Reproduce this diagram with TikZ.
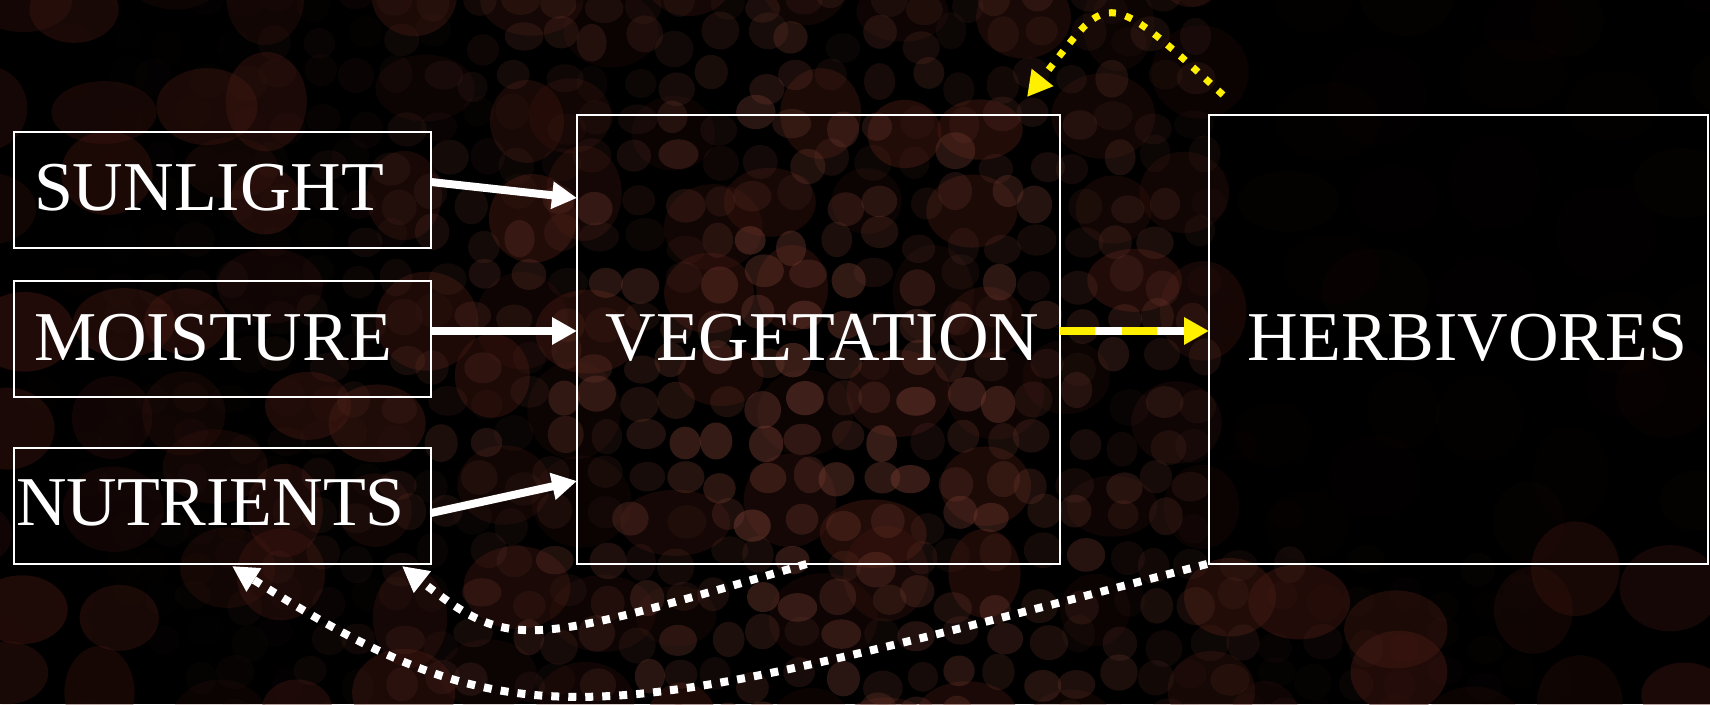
\documentclass[tikz,border=0pt]{standalone}
\usepackage{fontspec}
\setmainfont{Liberation Serif}
\usetikzlibrary{arrows.meta,calc}
\definecolor{cellc}{RGB}{120,62,50}
\definecolor{darkc}{RGB}{70,25,18}
\definecolor{yel}{RGB}{255,240,0}
\begin{document}
\begin{tikzpicture}[x=1pt,y=-1pt,
  box/.style={draw=white,line width=1.8pt,inner sep=0pt,outer sep=0pt,rectangle},
  lbl/.style={text=white,font=\fontsize{70}{80}\selectfont,inner sep=0pt,anchor=base},
  solidarrow/.style={draw=white,line width=8pt,-{Triangle[length=25pt,width=26pt]}},
  dotwhite/.style={draw=white,line width=8pt,dash pattern=on 8pt off 9pt,-{Triangle[length=26pt,width=26pt]}},
  dotyellow/.style={draw=yel,line width=7pt,dash pattern=on 7pt off 10pt,-{Triangle[length=25pt,width=26pt]}}]
\useasboundingbox (0,0) rectangle (1710,704);
\fill[black] (0,0) rectangle (1710,704);
% textured ground
\pgfmathsetseed{11}
\begin{scope}
\clip (0,0) rectangle (1710,704);
% broad dark red patches
\foreach \i in {0,...,17}{
  \foreach \j in {0,...,7}{
    \pgfmathsetmacro\cx{\i*100+rand*35}
    \pgfmathsetmacro\cy{\j*100+rand*35}
    \pgfmathsetmacro\ww{((\cx>1215)&&(\cy<555)) ? 0.15 : 1}
    \pgfmathsetmacro\op{\ww*(0.15+0.35*rnd)}
    \pgfmathsetmacro\rx{35+20*rnd}
    \pgfmathsetmacro\ry{30+20*rnd}
    \fill[darkc,opacity=\op] (\cx,\cy) ellipse [x radius=\rx pt, y radius=\ry pt];
  }
}
% cracked cells
\foreach \i in {0,...,42}{
  \foreach \j in {0,...,18}{
    \pgfmathsetmacro\cx{\i*40+rand*10}
    \pgfmathsetmacro\cy{\j*40+rand*10}
    \pgfmathsetmacro\w{exp(-((\cx-820)/430)^2)*(0.55+0.45*exp(-((\cy-420)/300)^2))}
    \pgfmathsetmacro\ww{((\cx>1215)&&(\cy<555)) ? 0.08*\w : \w}
    \pgfmathsetmacro\op{\ww*(0.12+0.4*rnd)}
    \pgfmathsetmacro\rx{15+5*rnd}
    \pgfmathsetmacro\ry{14+5*rnd}
    \fill[cellc,opacity=\op] (\cx,\cy) ellipse [x radius=\rx pt, y radius=\ry pt];
  }
}
\end{scope}
% boxes
\node[box,minimum width=417pt,minimum height=116pt] (sun) at (222.5,190) {};
\node[box,minimum width=417pt,minimum height=116pt] (moist) at (222.5,339) {};
\node[box,minimum width=417pt,minimum height=116pt] (nutr) at (222.5,506) {};
\node[box,minimum width=483pt,minimum height=449pt] (veg) at (818.5,339.5) {};
\node[box,minimum width=499pt,minimum height=449pt] (herb) at (1458.5,339.5) {};
% labels
\node[lbl] (tsun) at (209,210.5) {SUNLIGHT};
\node[lbl] (tmoist) at (213,360.5) {MOISTURE};
\node[lbl] (tnutr) at (210.5,525.5) {NUTRIENTS};
\node[lbl] (tveg) at (822.5,360.5) {VEGETATION};
\node[lbl] (therb) at (1467.5,360.5) {HERBIVORES};
% input arrows
\draw[solidarrow] ($(sun.east)+(0,-8)$) -- ($(veg.north west)+(0,83)$);
\draw[solidarrow] ($(moist.east)+(0,-8)$) -- ($(moist.east -| veg.west)+(0,-8)$);
\draw[solidarrow] ($(nutr.east)+(0,7)$) -- ($(veg.south west)+(0,-83)$);
% vegetation -> herbivores
\coordinate (ya) at ($(veg.east)+(0,-8.5)$);
\coordinate (yb) at ($(herb.west)+(0,-8.5)$);
\draw[white,line width=8.5pt] (ya) -- ($(yb)+(-25,0)$);
\draw[draw=yel,line width=8.5pt,dash pattern=on 35pt off 27pt,-{Triangle[length=25pt,width=26pt]}] (ya) -- (yb);
% feedback herbivores -> vegetation (yellow dotted)
\draw[dotyellow] ($(herb.north west)+(14,-20)$) .. controls (1101,-18) and (1109,-6) .. ($(veg.north east)+(-33,-18)$);
% feedback vegetation -> nutrients (white dotted)
\draw[dotwhite] ($(veg.south)+(-12,0)$) .. controls (526,646) and (511,652) .. ($(nutr.south east)+(-29,2)$);
% feedback herbivores -> nutrients (white dotted)
\draw[dotwhite] ($(herb.south west)+(-2,0)$) .. controls (595,724) and (525,752) .. ($(nutr.south east)+(-199,2)$);
\end{tikzpicture}
\end{document}
